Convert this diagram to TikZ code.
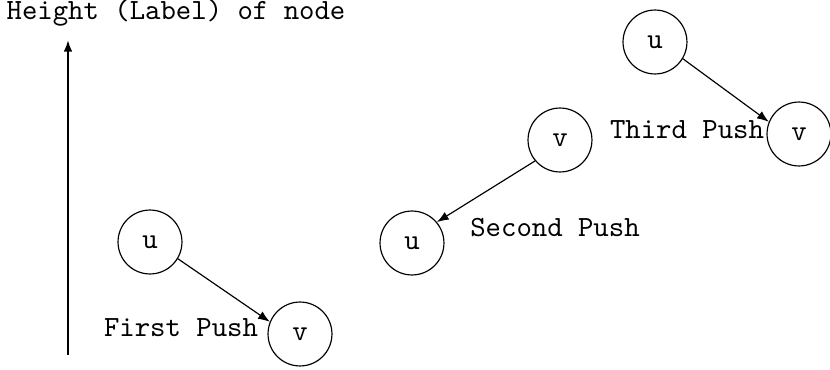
\documentclass[tikz,border=0pt]{standalone}
\usetikzlibrary{arrows.meta}
\begin{document}
\begin{tikzpicture}[x=0.341pt,y=-0.341pt,
  vert/.style={circle,draw,line width=0.4pt,minimum size=21.8pt,inner sep=0pt,font=\ttfamily},
  lbl/.style={font=\ttfamily,inner sep=0pt},
  push/.style={line width=0.4pt,-{Latex[length=4pt,width=3pt]}},
  axis/.style={line width=0.7pt,-{Latex[length=4pt,width=3pt]}}]
\useasboundingbox (0,0) rectangle (830,370);
% title and axis
\node[lbl] (title) at (176,13) {Height (Label) of node};
\coordinate (axb) at (68,355);
\coordinate (axt) at (68,40);
\draw[axis] (axb) -- (axt);
% first push
\node[vert] (u1) at (150,242) {u};
\node[vert] (v1) at (300,334) {v};
\draw[push] (u1.-31) -- (v1.158);
\node[lbl] (l1) at (181,328) {First Push};
% second push
\node[vert] (v2) at (560,140) {v};
\node[vert] (u2) at (412,243) {u};
\draw[push] (v2.-140) -- (u2.40);
\node[lbl] (l2) at (555,228) {Second Push};
% third push
\node[vert] (u3) at (655,42) {u};
\node[vert] (v3) at (799,134) {v};
\draw[push] (u3.-31) -- (v3.158);
\node[lbl] (l3) at (687,130) {Third Push};
\end{tikzpicture}
\end{document}
